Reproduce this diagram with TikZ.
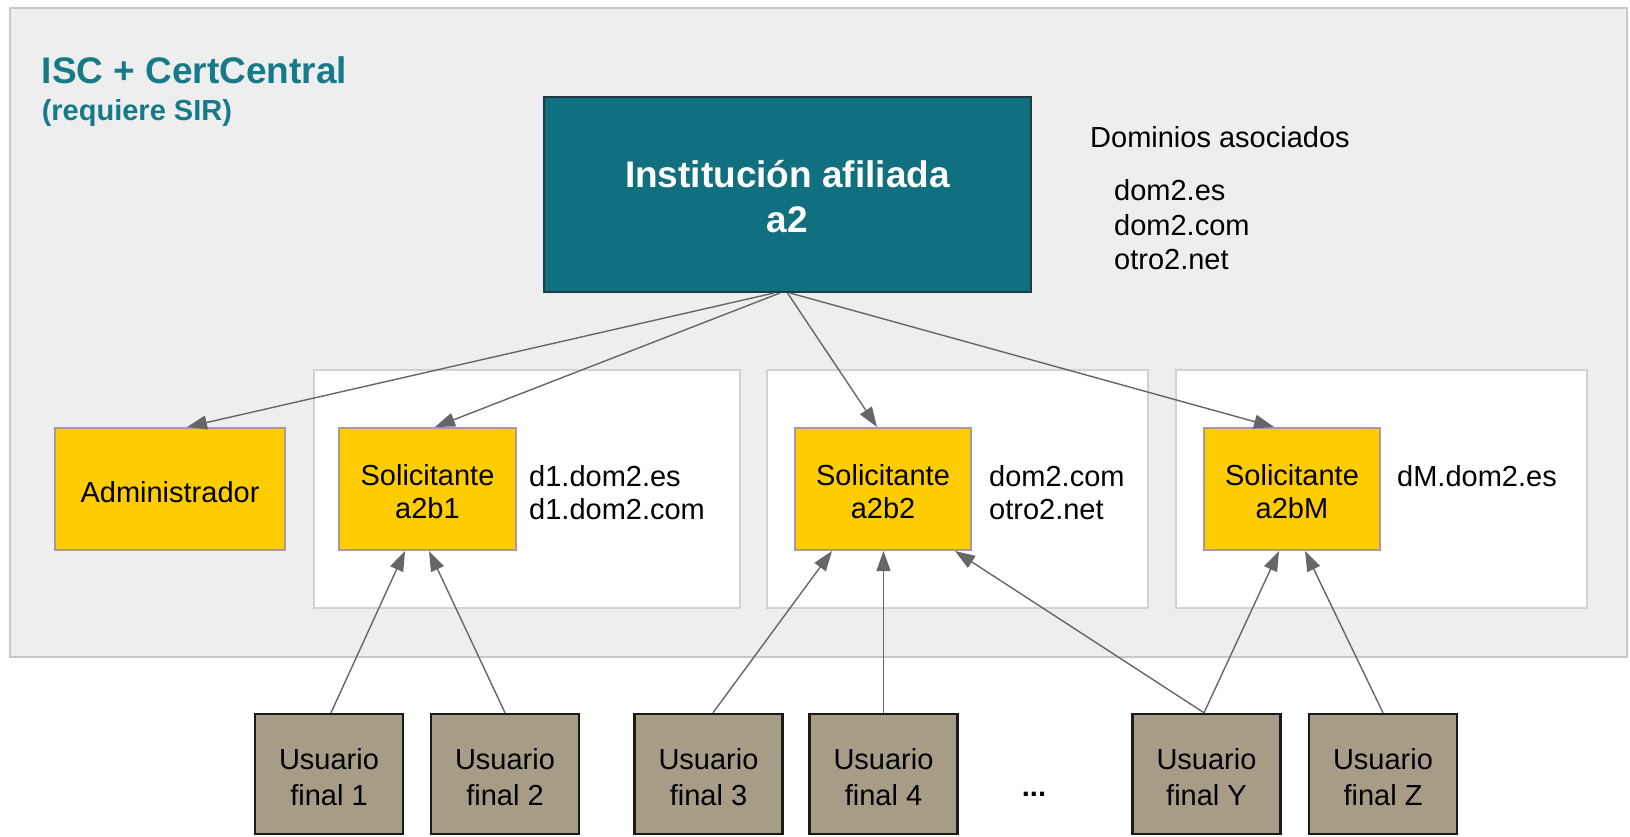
\documentclass[tikz,border=0pt]{standalone}
\usepackage{fontspec}
\setmainfont{Liberation Sans}
\usetikzlibrary{arrows.meta}
\definecolor{bggray}{HTML}{EEEEEE}
\definecolor{bgline}{HTML}{C8C8C8}
\definecolor{wline}{HTML}{D2D2D2}
\definecolor{tealbox}{HTML}{107080}
\definecolor{tealline}{HTML}{203C40}
\definecolor{titleteal}{HTML}{167A88}
\definecolor{yel}{HTML}{FFCC00}
\definecolor{yelline}{HTML}{A89A9A}
\definecolor{tan}{HTML}{A79D86}
\definecolor{tanline}{HTML}{1A1A1A}
\definecolor{arrowgray}{HTML}{666666}
\newcommand\fsn{\fontsize{29}{33}\selectfont}
\newcommand\dn[1]{\rule{0pt}{#1}}
\begin{document}
\begin{tikzpicture}[x=1pt,y=-1pt,
  yelbox/.style={draw=yelline, fill=yel, line width=2pt, minimum width=176pt, minimum height=122pt, inner sep=0pt, align=center, font=\fsn},
  userbox/.style={draw=tanline, fill=tan, line width=2.5pt, minimum width=148pt, minimum height=120pt, inner sep=0pt, align=center, font=\fontsize{29}{36}\selectfont},
  instbox/.style={draw=tealline, fill=tealbox, line width=2pt, minimum width=487pt, minimum height=195pt, inner sep=0pt, align=center, text=white, font=\bfseries\fontsize{37}{45}\selectfont},
  wbox/.style={draw=wline, fill=white, line width=1.5pt},
  plain/.style={inner sep=0pt, align=left, font=\fsn},
  conn/.style={draw=arrowgray, line width=1.4pt, -{Triangle[length=20pt,width=14pt]}}
]
\useasboundingbox (0,0) rectangle (1630,836);
\fill[white] (0,0) rectangle (1630,836);
\draw[draw=bgline, fill=bggray, line width=1.5pt] (10,8) rectangle (1627,657);
\draw[wbox] (314,370) rectangle (740,608);
\draw[wbox] (767,370) rectangle (1148,608);
\draw[wbox] (1176,370) rectangle (1587,608);

\node[anchor=base west, inner sep=0pt, text=titleteal, font=\bfseries\fontsize{37}{40}\selectfont] (title) at (41.6,83) {ISC + CertCentral};
\node[anchor=base west, inner sep=0pt, text=titleteal, font=\bfseries\fontsize{29}{32}\selectfont] (subtitle) at (41.6,120) {(requiere SIR)};

\node[instbox] (inst) at (787.5,194.5) {\dn{31pt}Institución afiliada\\a2};
\node[plain, anchor=west] (domhead) at (1090,137) {Dominios asociados};
\node[plain, anchor=west, font=\fontsize{29}{34.5}\selectfont] (domlist) at (1114,225) {dom2.es\\dom2.com\\otro2.net};

\node[yelbox, minimum width=230pt] (adm) at (170,489) {\dn{27pt}Administrador};
\node[yelbox, minimum width=177pt] (s1) at (427.5,489) {\dn{27pt}Solicitante\\a2b1};
\node[yelbox] (s2) at (883,489) {\dn{27pt}Solicitante\\a2b2};
\node[yelbox] (sM) at (1292,489) {\dn{27pt}Solicitante\\a2bM};

\node[plain, anchor=west] (d1) at (529,493) {d1.dom2.es\\d1.dom2.com};
\node[plain, anchor=west] (d2) at (989,493) {dom2.com\\otro2.net};
\node[plain, anchor=west] (dM) at (1397,476) {dM.dom2.es};

\node[userbox] (u1) at (329,774) {\dn{28pt}Usuario\\final 1};
\node[userbox] (u2) at (505,774) {\dn{28pt}Usuario\\final 2};
\node[userbox] (u3) at (708.5,774) {\dn{28pt}Usuario\\final 3};
\node[userbox] (u4) at (883.5,774) {\dn{28pt}Usuario\\final 4};
\node[userbox] (uY) at (1206.5,774) {\dn{28pt}Usuario\\final Y};
\node[userbox] (uZ) at (1383,774) {\dn{28pt}Usuario\\final Z};
\node[anchor=base, inner sep=0pt, font=\bfseries\fontsize{29}{33}\selectfont] (dots) at (1034,796) {...};

\draw[conn] ([xshift=-13.5pt]inst.south) -- ([xshift=17pt]adm.north);
\draw[conn] ([xshift=-7.5pt]inst.south) -- ([xshift=7.5pt]s1.north);
\draw[conn] (inst.south) -- ([xshift=-6pt]s2.north);
\draw[conn] ([xshift=2.5pt]inst.south) -- ([xshift=-18pt]sM.north);

\draw[conn] ([xshift=2pt]u1.north) -- ([xshift=-22.5pt]s1.south);
\draw[conn] (u2.north) -- ([xshift=1.5pt]s1.south);
\draw[conn] ([xshift=4.5pt]u3.north) -- ([xshift=-51pt]s2.south);
\draw[conn] (u4.north) -- ([xshift=0.5pt]s2.south);
\draw[conn] ([xshift=-2.5pt]uY.north) -- ([xshift=72pt]s2.south);
\draw[conn] ([xshift=-2.5pt]uY.north) -- ([xshift=-13pt]sM.south);
\draw[conn] (uZ.north) -- ([xshift=13pt]sM.south);
\end{tikzpicture}
\end{document}
